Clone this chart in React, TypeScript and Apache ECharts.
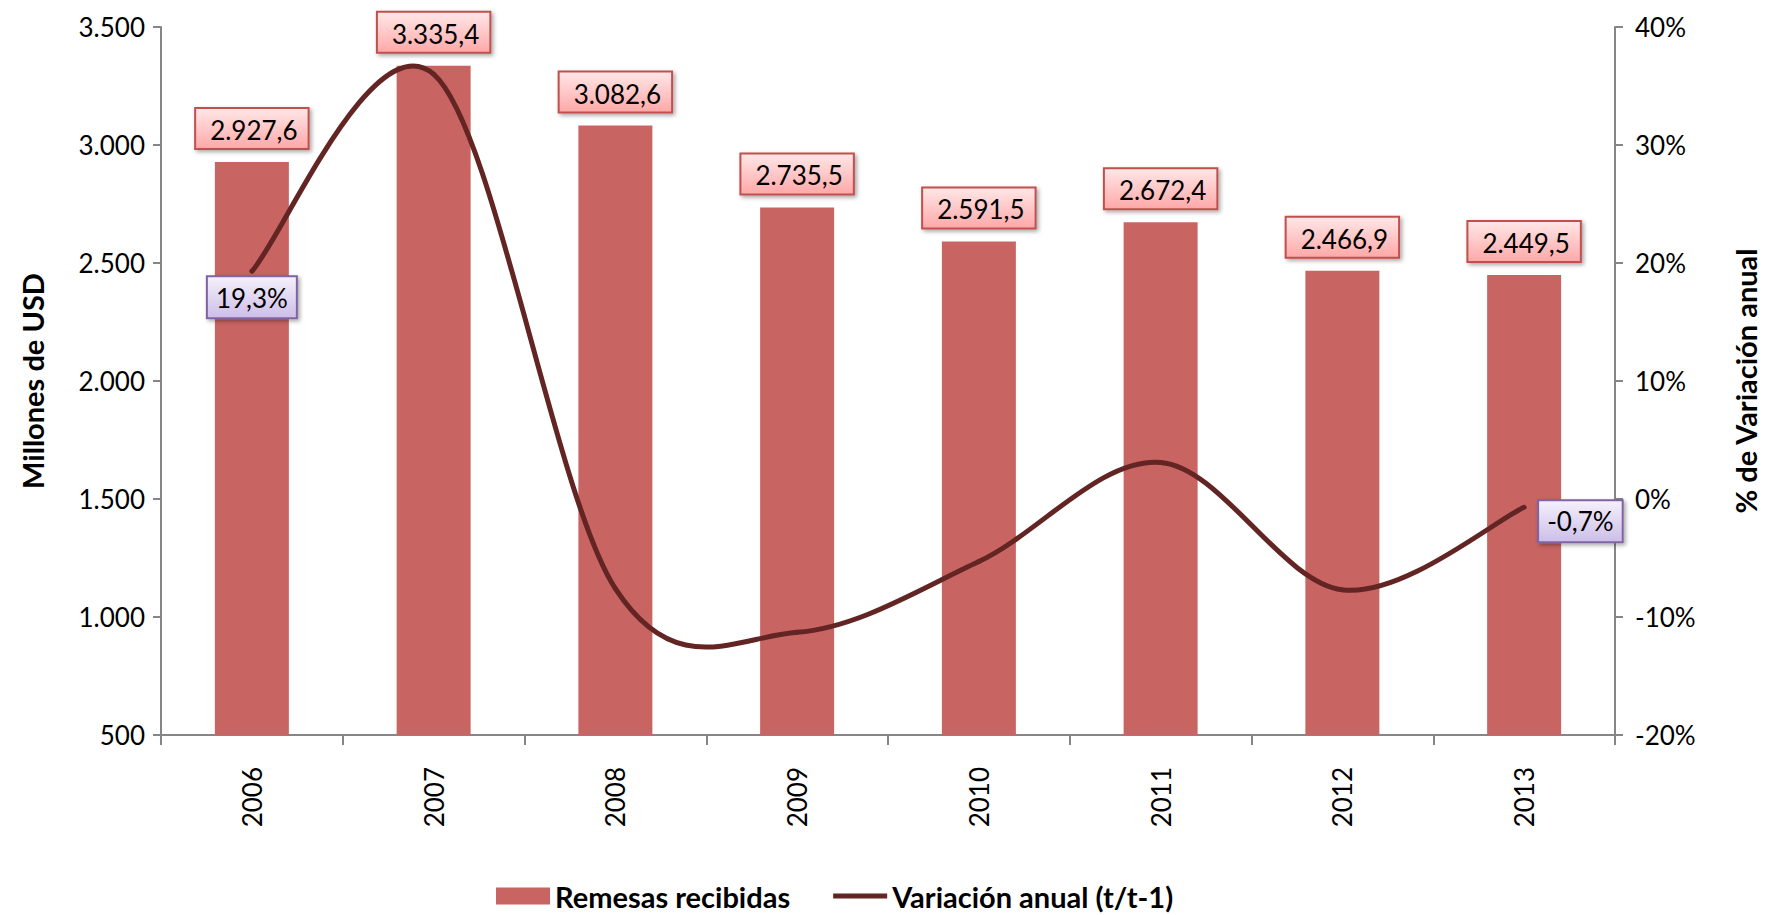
import React, { useEffect, useRef } from "react";
import * as echarts from "echarts";

const years = ["2006", "2007", "2008", "2009", "2010", "2011", "2012", "2013"];
const remesas = [2927.6, 3335.4, 3082.6, 2735.5, 2591.5, 2672.4, 2466.9, 2449.5];
const variacion = [19.3, 36.0, -7.6, -11.3, -5.3, 3.1, -7.7, -0.7];
const leftTicks = { min: 500, max: 3500, interval: 500 };
const rightTicks = { min: -20, max: 40, interval: 10 };

const FONT = "Lato, 'Open Sans', sans-serif";
const LINE_COLOR = "#632523";

function fmtThousands(n: number, decimals: number): string {
  const neg = n < 0;
  const s = Math.abs(n).toFixed(decimals);
  const [intPart, dec] = s.split(".");
  const withDots = intPart.replace(/\B(?=(\d{3})+(?!\d))/g, ".");
  return (neg ? "-" : "") + withDots + (dec !== undefined ? "," + dec : "");
}

export default function App() {
  const ref = useRef<HTMLDivElement>(null);

  useEffect(() => {
    if (!ref.current) return;
    const chart = echarts.init(ref.current, null, { renderer: "svg" });

    const pinkBg = new echarts.graphic.LinearGradient(0, 0, 0, 1, [
      { offset: 0, color: "#ffe6e6" },
      { offset: 1, color: "#ffa9a9" },
    ]);
    const purpleBg = new echarts.graphic.LinearGradient(0, 0, 0, 1, [
      { offset: 0, color: "#f4f0fb" },
      { offset: 1, color: "#cdbfe8" },
    ]);

    const shadow = {
      shadowBlur: 4,
      shadowOffsetX: 2,
      shadowOffsetY: 2,
      shadowColor: "rgba(0,0,0,0.35)",
    };

    const renderLine = (params: any, api: any) => {
      const i = params.dataIndex;
      const n = variacion.length;
      const pt = (k: number) => {
        const kk = Math.max(0, Math.min(n - 1, k));
        return api.coord([kk, variacion[kk]]);
      };
      const children: any[] = [];
      if (i < n - 1) {
        const p0 = pt(i - 1);
        const p1 = pt(i);
        const p2 = pt(i + 1);
        const p3 = pt(i + 2);
        const t = 1 / 6;
        children.push({
          type: "bezierCurve",
          shape: {
            x1: p1[0],
            y1: p1[1],
            cpx1: p1[0] + (p2[0] - p0[0]) * t,
            cpy1: p1[1] + (p2[1] - p0[1]) * t,
            cpx2: p2[0] - (p3[0] - p1[0]) * t,
            cpy2: p2[1] - (p3[1] - p1[1]) * t,
            x2: p2[0],
            y2: p2[1],
          },
          style: {
            stroke: LINE_COLOR,
            lineWidth: 5,
            fill: null,
            lineCap: "round",
          },
          z2: 1,
        });
      }
      const p = pt(i);
      const labelStyle = {
        text: fmtThousands(variacion[i], 1) + "%",
        fontFamily: FONT,
        fontSize: 26,
        fill: "#000",
        backgroundColor: purpleBg,
        borderColor: "#8064a2",
        borderWidth: 2,
        padding: [8, 8, 6, 8],
        ...shadow,
      };
      if (i === 0) {
        children.push({
          type: "text",
          x: p[0],
          y: p[1] + 6,
          z2: 10,
          style: { ...labelStyle, align: "center", verticalAlign: "top" },
        });
      } else if (i === n - 1) {
        children.push({
          type: "text",
          x: p[0] + 15,
          y: p[1] + 14,
          z2: 10,
          style: { ...labelStyle, align: "left", verticalAlign: "middle" },
        });
      }
      return { type: "group", children };
    };

    const axisLineStyle = { color: "#868686", width: 2 };
    const boldName = { fontFamily: FONT, fontSize: 29, fontWeight: "bold", color: "#000" };

    chart.setOption({
      animation: false,
      backgroundColor: "#ffffff",
      textStyle: { fontFamily: FONT },
      grid: { left: 161, right: 143, top: 27, bottom: 180 },
      legend: {
        top: 880,
        left: 496,
        padding: 0,
        itemGap: 43,
        itemWidth: 54,
        itemHeight: 17,
        textStyle: { ...boldName, lineHeight: 32 },
        data: [
          { name: "Remesas recibidas", icon: "rect" },
          {
            name: "Variación anual (t/t-1)",
            icon:
              "path://M0,0 L0.01,0 L0.01,0.01 Z M0,6 L54,6 L54,11 L0,11 Z M53.99,16.99 L54,17 L53.99,17 Z",
            itemStyle: { color: LINE_COLOR },
          },
        ],
      },
      xAxis: {
        type: "category",
        data: years,
        axisLine: { onZero: false, lineStyle: axisLineStyle },
        axisTick: { show: true, length: 10, lineStyle: axisLineStyle },
        axisLabel: {
          rotate: 90,
          margin: 32,
          fontFamily: FONT,
          fontSize: 26,
          color: "#000",
        },
        splitLine: { show: false },
      },
      yAxis: [
        {
          type: "value",
          min: leftTicks.min,
          max: leftTicks.max,
          interval: leftTicks.interval,
          name: "Millones de USD",
          nameLocation: "middle",
          nameRotate: 90,
          nameGap: 114,
          nameTextStyle: boldName,
          axisLine: { show: true, lineStyle: axisLineStyle },
          axisTick: { show: true, length: 8, lineStyle: axisLineStyle },
          axisLabel: {
            margin: 16,
            fontFamily: FONT,
            fontSize: 26,
            color: "#000",
            formatter: (v: number) => fmtThousands(v, 0),
          },
          splitLine: { show: false },
        },
        {
          type: "value",
          position: "right",
          min: rightTicks.min,
          max: rightTicks.max,
          interval: rightTicks.interval,
          name: "% de Variación anual",
          nameLocation: "middle",
          nameRotate: 90,
          nameGap: 116,
          nameTextStyle: boldName,
          axisLine: { show: true, lineStyle: axisLineStyle },
          axisTick: { show: true, length: 8, lineStyle: axisLineStyle },
          axisLabel: {
            margin: 20,
            fontFamily: FONT,
            fontSize: 26,
            color: "#000",
            formatter: (v: number) => v + "%",
          },
          splitLine: { show: false },
        },
      ],
      series: [
        {
          name: "Remesas recibidas",
          type: "bar",
          yAxisIndex: 0,
          data: remesas,
          barWidth: 74,
          itemStyle: { color: "#c86462" },
          label: {
            show: true,
            position: "top",
            distance: 14,
            fontFamily: FONT,
            fontSize: 26,
            color: "#000",
            backgroundColor: pinkBg,
            borderColor: "#c0504d",
            borderWidth: 2,
            padding: [8, 10, 5, 14],
            ...shadow,
            formatter: (p: any) => fmtThousands(p.value, 1),
          },
          z: 2,
        },
        {
          name: "Variación anual (t/t-1)",
          type: "custom",
          coordinateSystem: "cartesian2d",
          xAxisIndex: 0,
          yAxisIndex: 1,
          data: variacion.map((v, i) => [i, v]),
          encode: { x: 0, y: 1 },
          renderItem: renderLine,
          itemStyle: { color: LINE_COLOR },
          clip: false,
          z: 3,
        },
      ],
    });

    return () => chart.dispose();
  }, []);

  return (
    <div
      ref={ref}
      style={{ position: "fixed", left: 0, top: 0, width: 1768, height: 915 }}
    />
  );
}
